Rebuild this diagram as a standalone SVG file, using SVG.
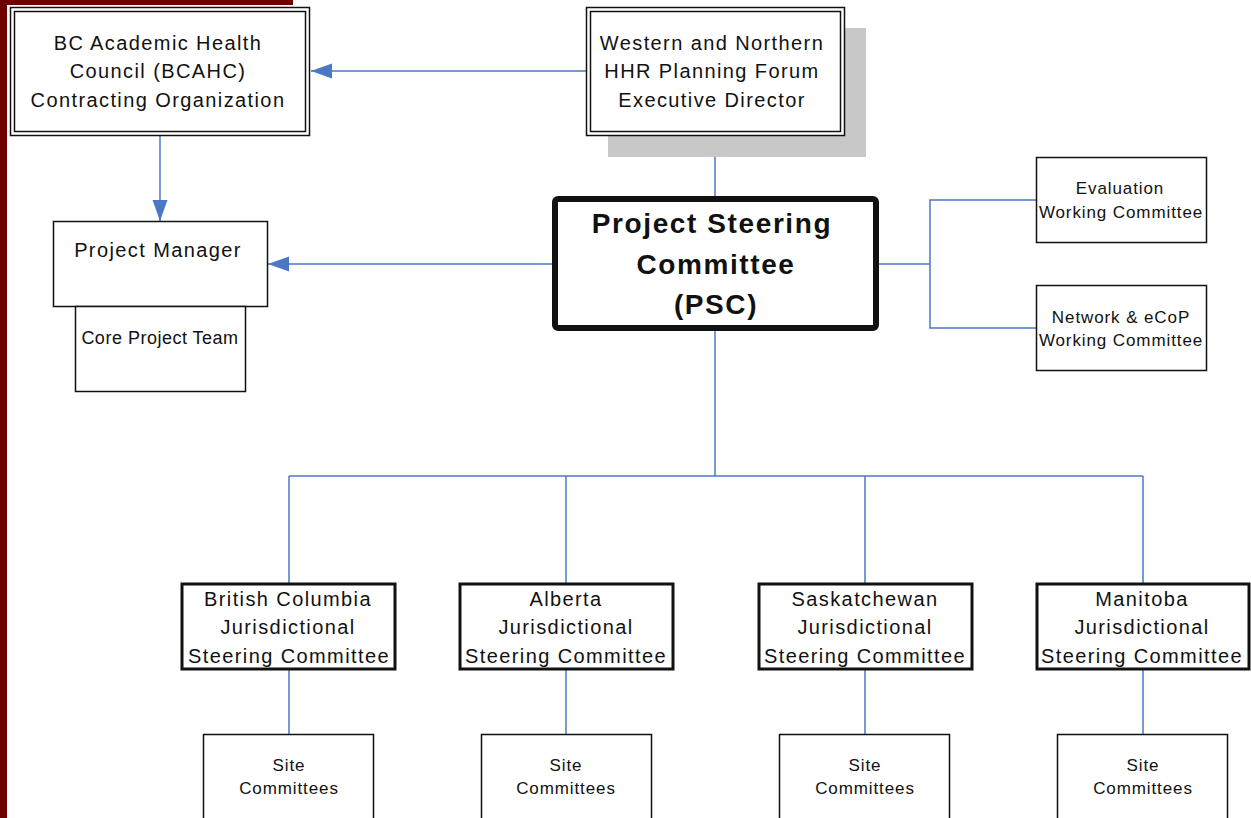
<svg xmlns="http://www.w3.org/2000/svg" width="1251" height="818" viewBox="0 0 1251 818">
<style>
  text { font-family: "Liberation Sans", Arial, sans-serif; fill: #111; text-anchor: middle; }
  .t20 { font-size: 20px; letter-spacing: 1.4px; }
  .t18 { font-size: 18px; letter-spacing: 0.5px; }
  .t17 { font-size: 17px; letter-spacing: 0.9px; }
  .psc { font-size: 28px; font-weight: bold; letter-spacing: 1.6px; }
  .box { fill: #fff; stroke: #111; stroke-width: 1.5; }
  .jsc { fill: #fff; stroke: #111; stroke-width: 3; }
  .conn { fill: none; stroke: #4a78c6; stroke-width: 1.5; }
</style>
<defs>
  <marker id="arr" markerUnits="userSpaceOnUse" markerWidth="22" markerHeight="16" refX="21" refY="7.5" orient="auto">
    <path d="M0,0 L21,7.5 L0,15 Z" fill="#4a78c6"/>
  </marker>
</defs>
<rect x="0" y="0" width="1251" height="818" fill="#fff"/>
<g id="frame">
  <rect x="0" y="0" width="7" height="818" fill="#6e0000"/>
  <rect x="0" y="0" width="293" height="5" fill="#6e0000"/>
</g>

<g id="connectors">
  <line class="conn" x1="586" y1="71" x2="311" y2="71" marker-end="url(#arr)"/>
  <line class="conn" x1="160" y1="136" x2="160" y2="221" marker-end="url(#arr)"/>
  <line class="conn" x1="552" y1="264" x2="268" y2="264" marker-end="url(#arr)"/>
  <line class="conn" x1="715" y1="136" x2="715" y2="197"/>
  <polyline class="conn" points="879,264 930,264"/>
  <polyline class="conn" points="1036,200 930,200 930,328 1036,328"/>
  <line class="conn" x1="715" y1="330" x2="715" y2="476"/>
  <line class="conn" x1="289" y1="476" x2="1143" y2="476"/>
  <line class="conn" x1="289" y1="476" x2="289" y2="584"/>
  <line class="conn" x1="566" y1="476" x2="566" y2="584"/>
  <line class="conn" x1="865" y1="476" x2="865" y2="584"/>
  <line class="conn" x1="1143" y1="476" x2="1143" y2="584"/>
  <line class="conn" x1="289" y1="669" x2="289" y2="734"/>
  <line class="conn" x1="566" y1="669" x2="566" y2="734"/>
  <line class="conn" x1="865" y1="669" x2="865" y2="734"/>
  <line class="conn" x1="1143" y1="669" x2="1143" y2="734"/>
</g>

<g id="bcahc">
  <rect class="box" x="10.5" y="7.5" width="299" height="128"/>
  <rect class="box" x="14.5" y="11.5" width="291" height="120"/>
  <text class="t20" x="158" y="49.5">BC Academic Health</text>
  <text class="t20" x="158" y="78">Council (BCAHC)</text>
  <text class="t20" x="158" y="106.5">Contracting Organization</text>
</g>

<g id="western">
  <rect x="608" y="28" width="258" height="129" fill="#c8c8c8"/>
  <rect class="box" x="586.5" y="7.5" width="258" height="128"/>
  <rect class="box" x="590.5" y="11.5" width="250" height="120"/>
  <text class="t20" x="712" y="49.5">Western and Northern</text>
  <text class="t20" x="712" y="78">HHR Planning Forum</text>
  <text class="t20" x="712" y="106.5">Executive Director</text>
</g>

<g id="pm">
  <rect class="box" x="53.5" y="221.5" width="214" height="85"/>
  <text class="t20" x="158" y="257">Project Manager</text>
</g>

<g id="core">
  <rect class="box" x="75.5" y="306.5" width="170" height="85"/>
  <text class="t18" x="160" y="344">Core Project Team</text>
</g>

<g id="psc">
  <rect x="555" y="199" width="321" height="129" rx="3" fill="#fff" stroke="#111" stroke-width="6"/>
  <text class="psc" x="712" y="233">Project Steering</text>
  <text class="psc" x="716" y="273.5">Committee</text>
  <text class="psc" x="716" y="313.5">(PSC)</text>
</g>

<g id="eval">
  <rect class="box" x="1036.5" y="157.5" width="170" height="85"/>
  <text class="t17" x="1120" y="194">Evaluation</text>
  <text class="t17" x="1121" y="218">Working Committee</text>
</g>

<g id="network">
  <rect class="box" x="1036.5" y="285.5" width="170" height="85"/>
  <text class="t17" x="1121" y="322.5">Network &amp; eCoP</text>
  <text class="t17" x="1121" y="346">Working Committee</text>
</g>

<g id="jsc-bc">
  <rect class="jsc" x="182" y="584" width="213" height="85"/>
  <text class="t20" x="288" y="605.5">British Columbia</text>
  <text class="t20" x="288" y="634">Jurisdictional</text>
  <text class="t20" x="289" y="662.5">Steering Committee</text>
</g>
<g id="jsc-ab">
  <rect class="jsc" x="460" y="584" width="213" height="85"/>
  <text class="t20" x="566" y="605.5">Alberta</text>
  <text class="t20" x="566" y="634">Jurisdictional</text>
  <text class="t20" x="566" y="662.5">Steering Committee</text>
</g>
<g id="jsc-sk">
  <rect class="jsc" x="759" y="584" width="213" height="85"/>
  <text class="t20" x="865" y="605.5">Saskatchewan</text>
  <text class="t20" x="865" y="634">Jurisdictional</text>
  <text class="t20" x="865" y="662.5">Steering Committee</text>
</g>
<g id="jsc-mb">
  <rect class="jsc" x="1037" y="584" width="212" height="85"/>
  <text class="t20" x="1142" y="605.5">Manitoba</text>
  <text class="t20" x="1142" y="634">Jurisdictional</text>
  <text class="t20" x="1142" y="662.5">Steering Committee</text>
</g>

<g id="site-bc">
  <rect class="box" x="203.5" y="734.5" width="170" height="100"/>
  <text class="t17" x="289" y="771">Site</text>
  <text class="t17" x="289" y="794">Committees</text>
</g>
<g id="site-ab">
  <rect class="box" x="481.5" y="734.5" width="170" height="100"/>
  <text class="t17" x="566" y="771">Site</text>
  <text class="t17" x="566" y="794">Committees</text>
</g>
<g id="site-sk">
  <rect class="box" x="779.5" y="734.5" width="170" height="100"/>
  <text class="t17" x="865" y="771">Site</text>
  <text class="t17" x="865" y="794">Committees</text>
</g>
<g id="site-mb">
  <rect class="box" x="1057.5" y="734.5" width="170" height="100"/>
  <text class="t17" x="1143" y="771">Site</text>
  <text class="t17" x="1143" y="794">Committees</text>
</g>
</svg>
